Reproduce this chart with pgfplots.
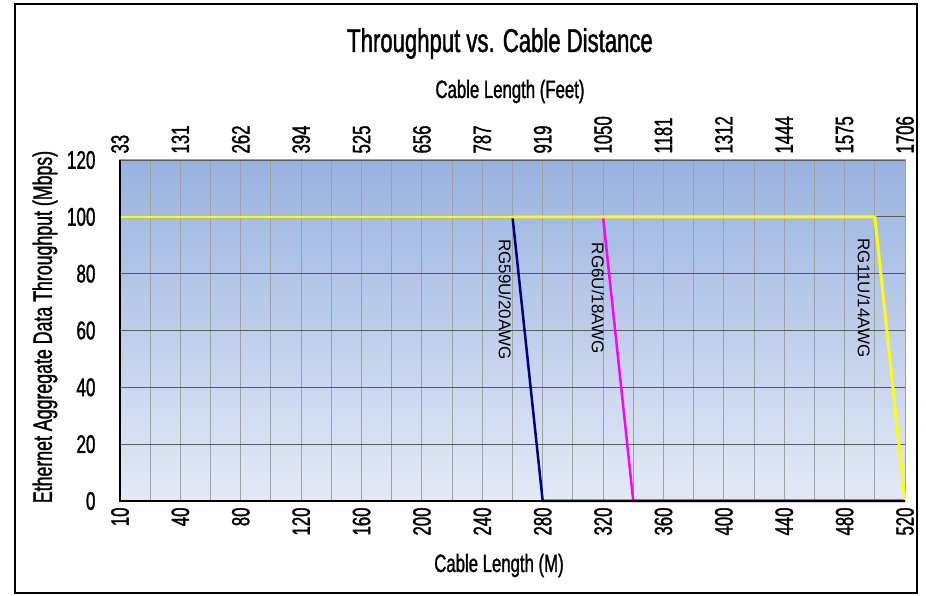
\documentclass[border=0pt]{standalone}
\usepackage{fontspec}
\setmainfont[FakeStretch=0.67, FakeBold=1.2]{Liberation Sans}
\newfontfamily\arialfont{Liberation Sans}
\usepackage{pgfplots}
\pgfplotsset{compat=1.18}
\definecolor{bgtop}{RGB}{152,178,224}
\definecolor{bgbot}{RGB}{228,234,246}
\definecolor{navyline}{RGB}{0,0,128}
\definecolor{magline}{RGB}{255,0,255}
\definecolor{yelline}{RGB}{255,255,0}
\definecolor{vgrid}{RGB}{160,160,160}
\definecolor{hgrid}{RGB}{90,90,90}
\begin{document}
\begin{tikzpicture}
\useasboundingbox (-120pt,-95pt) rectangle (806pt,501pt);
\draw[line width=2pt, black] (-105pt,-92pt) rectangle (797pt,497pt);
\begin{axis}[
  at={(0pt,0pt)}, anchor=south west,
  scale only axis, width=785pt, height=341pt,
  xmin=0, xmax=26, ymin=0, ymax=120,
  xtick={0,2,...,26},
  xticklabels={10,40,80,120,160,200,240,280,320,360,400,440,480,520},
  minor xtick={1,3,...,25},
  ytick={0,20,...,120},
  xmajorgrids, xminorgrids, ymajorgrids,
  x grid style={vgrid, line width=1pt},
  y grid style={hgrid, line width=1.2pt},
  major tick length=0pt, minor tick length=0pt,
  axis line style={vgrid, line width=1pt},
  axis background/.style={shade, top color=bgtop, bottom color=bgbot},
  /pgf/number format/assume math mode=true,
  xticklabel style={rotate=90, anchor=east, font=\fontsize{25}{28}\selectfont, xshift=-3pt},
  yticklabel style={font=\fontsize{25.5}{28}\selectfont, xshift=-21pt},
  clip=false,
]
\addplot[magline, line width=2.5pt] coordinates {(0,100) (16,100) (17,0) (26,0)};
\addplot[navyline, line width=2.5pt] coordinates {(0,100) (13,100) (14,0) (26,0)};
\addplot[yelline, line width=3pt] coordinates {(0,100) (25,100) (26,0)};
\draw[black, line width=1.2pt] (rel axis cs:0,1) -- (rel axis cs:0,0) -- (rel axis cs:1,0);
\node[rotate=-90, font=\arialfont\fontsize{17}{20}\selectfont] at (axis cs:12.75,71) {RG59U/20AWG};
\node[rotate=-90, font=\arialfont\fontsize{17}{20}\selectfont] at (axis cs:15.83,71.3) {RG6U/18AWG};
\node[rotate=-90, font=\arialfont\fontsize{17}{20}\selectfont] at (axis cs:24.64,71.4) {RG11U/14AWG};
\end{axis}
\begin{axis}[
  at={(0pt,0pt)}, anchor=south west,
  scale only axis, width=785pt, height=341pt,
  xmin=0, xmax=26, ymin=0, ymax=120,
  axis x line*=top, hide y axis,
  axis line style={draw=none},
  xtick={0,2,...,26},
  xticklabels={33,131,262,394,525,656,787,919,1050,1181,1312,1444,1575,1706},
  major tick length=0pt,
  xticklabel style={rotate=90, anchor=west, font=\fontsize{25}{28}\selectfont, xshift=3pt},
]
\addplot[draw=none] coordinates {(0,0) (26,0)};
\end{axis}
\node[anchor=base] at (380pt,449pt) {\fontsize{33}{36}\selectfont Throughput vs. Cable Distance};
\node[anchor=base] at (390pt,403pt) {\fontsize{25}{28}\selectfont Cable Length (Feet)};
\node[anchor=base] at (379pt,-71pt) {\fontsize{25}{28}\selectfont Cable Length (M)};
\node[rotate=90] at (-75pt,174pt) {\fontsize{26.5}{28}\selectfont Ethernet Aggregate Data Throughput (Mbps)};
\end{tikzpicture}
\end{document}
